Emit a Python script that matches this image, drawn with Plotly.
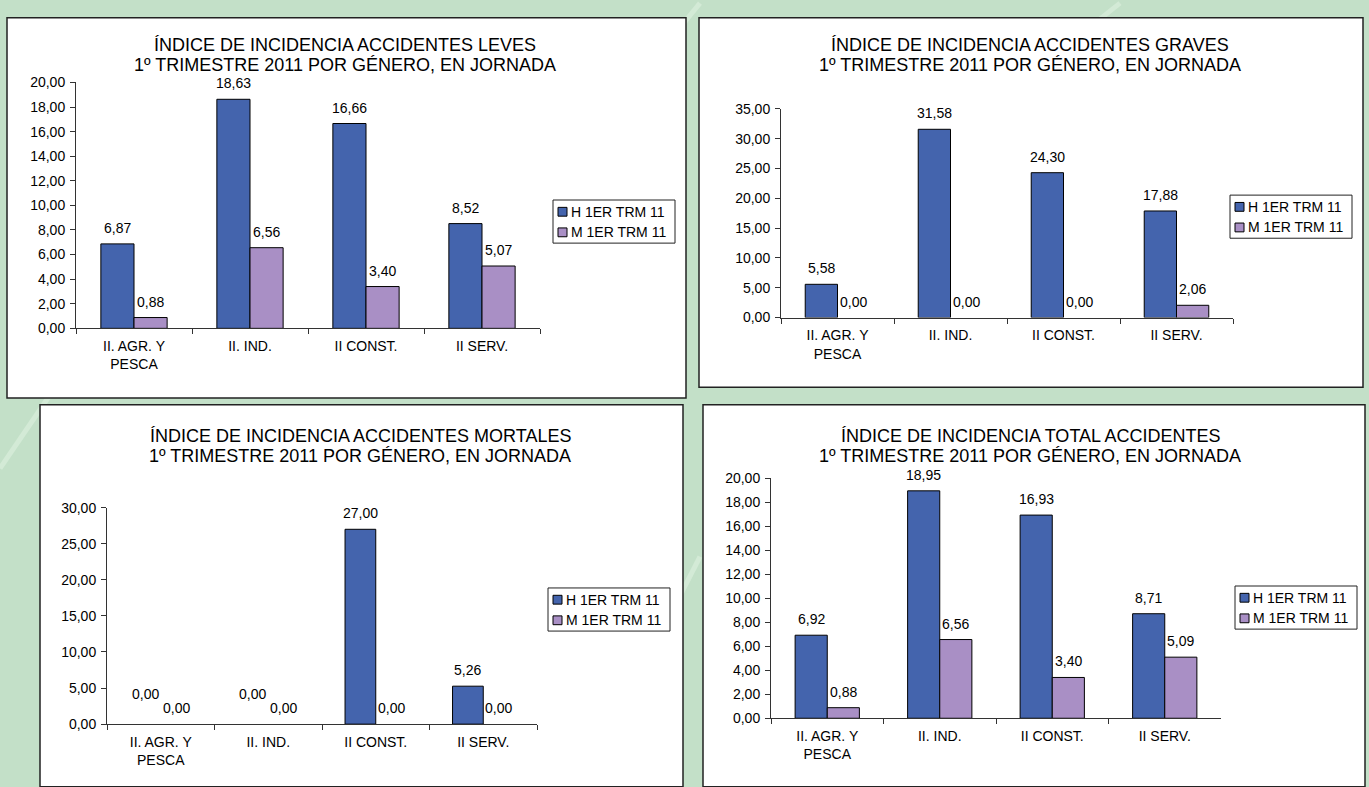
import plotly.graph_objects as go

W, H = 1369, 787

categories = ["II. AGR. Y<br>PESCA", "II. IND.", "II CONST.", "II SERV."]
series_names = ["H 1ER TRM 11", "M 1ER TRM 11"]

leves_h = [6.87, 18.63, 16.66, 8.52]
leves_m = [0.88, 6.56, 3.40, 5.07]
graves_h = [5.58, 31.58, 24.30, 17.88]
graves_m = [0.00, 0.00, 0.00, 2.06]
mortales_h = [0.00, 0.00, 27.00, 5.26]
mortales_m = [0.00, 0.00, 0.00, 0.00]
total_h = [6.92, 18.95, 16.93, 8.71]
total_m = [0.88, 6.56, 3.40, 5.09]

titles = [
    "ÍNDICE DE INCIDENCIA ACCIDENTES LEVES",
    "ÍNDICE DE INCIDENCIA ACCIDENTES GRAVES",
    "ÍNDICE DE INCIDENCIA ACCIDENTES MORTALES",
    "ÍNDICE DE INCIDENCIA TOTAL ACCIDENTES",
]
subtitle = "1º TRIMESTRE 2011 POR GÉNERO, EN JORNADA"
y_max = [20, 35, 30, 20]
y_step = [2, 5, 5, 2]

BLUE = "#4464AD"
PURPLE = "#A98FC5"
GREEN = "#C3E0C8"
FONT = "Liberation Sans, Arial, sans-serif"

# panel geometry in pixels
boxes = [(7, 10, 686, 398), (699, 10, 1363, 387), (40, 405, 683, 795), (703, 405, 1365, 795)]
plots = [(76, 76, 540, 327), (781, 103, 1233, 316), (107, 510, 537, 731), (771, 480, 1221, 725)]
title_pos = [(345, 38), (1030, 38), (360, 437), (1030, 437)]
legend_box = [(553, 196), (1230, 191), (548, 592), (1235, 590)]
LEG_W, LEG_H = 122, 44

def px(x):
    return x / W

def py(y):
    return 1 - y / H

data = [(leves_h, leves_m), (graves_h, graves_m), (mortales_h, mortales_m), (total_h, total_m)]

fig = go.Figure()
shapes = []
annotations = []

# faint diagonal background stripes
for (x0, y0, x1, y1) in [(700, -5, 600, 120), (1120, -5, 1040, 60), (700, 560, 640, 680), (60, 380, 0, 470)]:
    shapes.append(dict(type="line", xref="paper", yref="paper", x0=px(x0), y0=py(y0), x1=px(x1), y1=py(y1),
                       line=dict(color="#D3EAD6", width=5), layer="below"))

for i in range(4):
    bx0, by0, bx1, by1 = boxes[i]
    shapes.append(dict(type="rect", xref="paper", yref="paper", x0=px(bx0), y0=py(by1), x1=px(bx1), y1=py(by0),
                       fillcolor="white", line=dict(color="#222222", width=1.5), layer="below"))
    x0, y0, x1, y1 = plots[i]
    sfx = "" if i == 0 else str(i + 1)
    xa, ya = "x" + sfx, "y" + sfx
    hv, mv = data[i]
    for name, vals, col in [(series_names[0], hv, BLUE), (series_names[1], mv, PURPLE)]:
        widths = [1 if v != 0 else 0 for v in vals]
        fig.add_trace(go.Bar(x=categories, y=vals, name=name, xaxis=xa, yaxis=ya, showlegend=False,
                             marker=dict(color=col, line=dict(color="black", width=widths))))
    fig.update_layout(**{
        "xaxis" + sfx: dict(domain=[px(x0), px(x1)], anchor=ya, type="category", tickson="boundaries",
                            ticks="outside", ticklen=5, tickcolor="#333", showline=True, linecolor="#333",
                            linewidth=1, showgrid=False, tickfont=dict(family=FONT, size=14, color="black"),
                            ticklabelstandoff=5, fixedrange=True),
        "yaxis" + sfx: dict(domain=[py(y1), py(y0)], anchor=xa, range=[0, y_max[i]], dtick=y_step[i],
                            tick0=0, tickformat=".2f", ticks="outside", ticklen=5, tickcolor="#333",
                            showline=True, linecolor="#333", linewidth=1, showgrid=False, zeroline=False,
                            ticklabelstandoff=2,
                            tickfont=dict(family=FONT, size=14, color="black"), fixedrange=True),
    })
    # data labels
    for s, vals in enumerate([hv, mv]):
        off = -0.143 if s == 0 else 0.143
        for c, v in enumerate(vals):
            extra = 14 if (i == 2 and s == 0 and v == 0) else 0
            annotations.append(dict(x=c + off, y=v, xref=xa, yref=ya, text=f"{v:.2f}".replace(".", ","),
                                    showarrow=False, yanchor="bottom", yshift=6 + extra,
                                    font=dict(family=FONT, size=14, color="black")))
    # titles
    tx, ty = title_pos[i]
    annotations.append(dict(x=px(tx), y=py(ty), xref="paper", yref="paper", text=titles[i], showarrow=False,
                            xanchor="center", yanchor="middle", font=dict(family=FONT, size=18, color="black")))
    annotations.append(dict(x=px(tx), y=py(ty + 20), xref="paper", yref="paper", text=subtitle, showarrow=False,
                            xanchor="center", yanchor="middle", font=dict(family=FONT, size=18, color="black")))
    # legend (drawn as a small framed key)
    lx, ly = legend_box[i]
    shapes.append(dict(type="rect", xref="paper", yref="paper", x0=px(lx), y0=py(ly + LEG_H), x1=px(lx + LEG_W),
                       y1=py(ly), fillcolor="white", line=dict(color="#222222", width=1)))
    for k, (name, col) in enumerate([(series_names[0], BLUE), (series_names[1], PURPLE)]):
        cy = ly + 12 + k * 21
        shapes.append(dict(type="rect", xref="paper", yref="paper", x0=px(lx + 5), y0=py(cy + 4.5),
                           x1=px(lx + 14), y1=py(cy - 4.5), fillcolor=col, line=dict(color="black", width=1)))
        annotations.append(dict(x=px(lx + 16), y=py(cy), xref="paper", yref="paper", text=name, showarrow=False,
                                xanchor="left", yanchor="middle", font=dict(family=FONT, size=14, color="black")))

fig.update_layout(width=W, height=H, margin=dict(l=0, r=0, t=0, b=0), paper_bgcolor=GREEN,
                  plot_bgcolor="rgba(0,0,0,0)", barmode="group", bargap=0.4286, bargroupgap=0,
                  separators=",.", shapes=shapes, annotations=annotations, showlegend=False)

fig.write_html("out.html", config={"displayModeBar": False},
               post_script="document.body.style.margin='0';document.body.style.padding='0';"
                           "document.body.style.overflow='hidden';")
